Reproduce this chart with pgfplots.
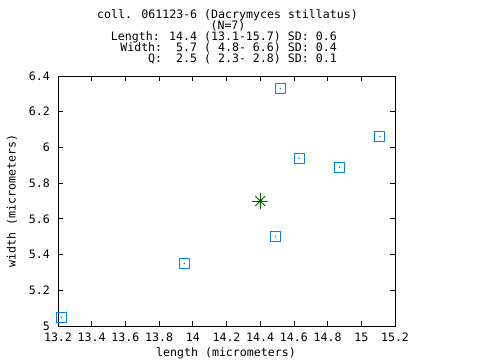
\documentclass[border=0pt]{standalone}
\usepackage{pgfplots}
\pgfplotsset{compat=1.18}
\usepackage{fontspec}
\setmainfont{DejaVu Sans Mono}
\definecolor{gpblue}{RGB}{0,128,255}
\definecolor{gpgreen}{RGB}{0,100,0}
\newcommand{\gpfont}{\fontsize{11.6bp}{12bp}\selectfont}
\begin{document}
\begin{tikzpicture}
\useasboundingbox (0,0) rectangle (480bp,360bp);
\fill[white] (0,0) rectangle (480bp,360bp);
\begin{axis}[
  at={(58bp,34bp)}, anchor=south west,
  width=337bp, height=250bp, scale only axis,
  xmin=13.2, xmax=15.2, ymin=5, ymax=6.4,
  xtick={13.2,13.4,13.6,13.8,14,14.2,14.4,14.6,14.8,15,15.2},
  ytick={5,5.2,5.4,5.6,5.8,6,6.2,6.4},
  tick align=inside, major tick length=5bp,
  tick style={black, line width=0.8bp},
  axis line style={black, line width=0.8bp},
  /pgf/number format/assume math mode=true,
  ticklabel style={font=\gpfont, inner sep=0pt},
  xticklabel style={anchor=center, yshift=-11bp},
  yticklabel style={anchor=east, xshift=-8bp},
  clip=false,
]
\addplot[only marks, mark=square, mark size=5bp, gpblue, line width=0.9bp] coordinates {
(14.52,6.33) (15.11,6.06) (14.63,5.94) (14.87,5.89) (14.49,5.50) (13.22,5.05) (13.95,5.35)
};
\addplot[only marks, mark=*, mark size=0.5bp, gpblue] coordinates {
(14.52,6.33) (15.11,6.06) (14.63,5.94) (14.87,5.89) (14.49,5.50) (13.22,5.05) (13.95,5.35)
};
\addplot[only marks, mark=+, mark size=8bp, gpgreen, line width=0.8bp] coordinates {(14.40,5.70)};
\addplot[only marks, mark=x, mark size=7bp, gpgreen, line width=0.8bp] coordinates {(14.40,5.70)};
\addplot[only marks, mark=*, mark size=1.6bp, gpgreen] coordinates {(14.40,5.70)};
\end{axis}
\begin{scope}[every node/.style={font=\gpfont, inner sep=0pt}]
\node[anchor=base] at (227.5bp,341.5bp) {coll. 061123-6 (Dacrymyces stillatus)};
\node[anchor=base] at (228bp,330.5bp) {(N=7)};
\node[anchor=base east] at (337bp,319.5bp) {Length: 14.4 (13.1-15.7) SD: 0.6};
\node[anchor=base east] at (337bp,308.5bp) {Width:~~5.7 (~4.8-~6.6) SD: 0.4};
\node[anchor=base east] at (337bp,297.5bp) {Q:~~2.5 (~2.3-~2.8) SD: 0.1};
\node[anchor=center] at (226bp,7bp) {length (micrometers)};
\node[anchor=center, rotate=90] at (12bp,159bp) {width (micrometers)};
\end{scope}
\end{tikzpicture}
\end{document}
